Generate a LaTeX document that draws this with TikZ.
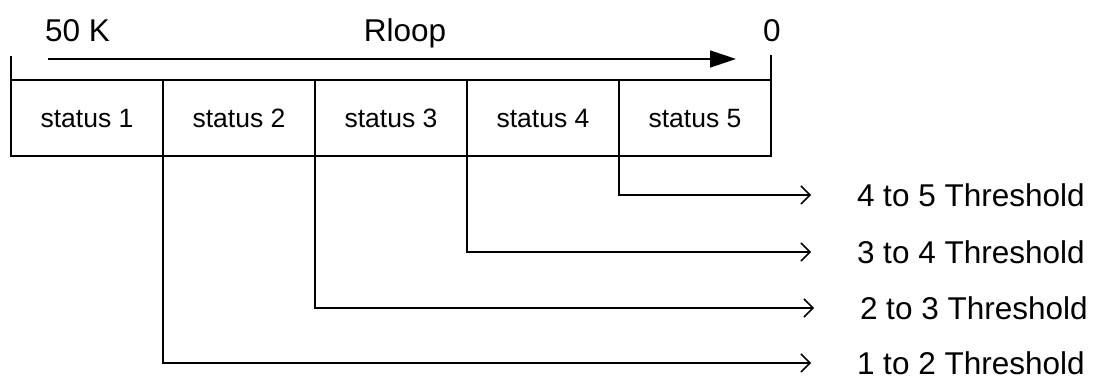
\documentclass[tikz,border=0pt]{standalone}
\usepackage{fontspec}
\setmainfont{Liberation Sans}
\usetikzlibrary{arrows.meta}

\begin{document}
\begin{tikzpicture}[x=1pt,y=-1pt,
	cell/.style={draw,line width=2pt,minimum width=152pt,minimum height=76pt,inner sep=0,outer sep=0,font=\fontsize{26.5}{30}\selectfont},
	lbl/.style={inner sep=0,outer sep=0,font=\fontsize{31.5}{36}\selectfont},
	thr/.style={line width=1.5pt,-{Straight Barb[length=9pt,width=18pt]},shorten >=46pt}]
	\useasboundingbox (0,0) rectangle (1098,377);
	% status cells
	\node[cell] (s1) at (87,118.5) {status 1};
	\node[cell] (s2) at (239,118.5) {status 2};
	\node[cell] (s3) at (391,118.5) {status 3};
	\node[cell] (s4) at (543,118.5) {status 4};
	\node[cell] (s5) at (695,118.5) {status 5};
	% scale above
	\coordinate (l) at (11,56);
	\coordinate (r) at (771,55);
	\draw[line width=2pt] (s1.north west) -- (l);
	\draw[line width=2pt] (s5.north east) -- (r);
	\node[lbl,anchor=base west] (hi) at (45,42) {50 K};
	\node[lbl,anchor=base] (rl) at (405,42) {Rloop};
	\node[lbl,anchor=base] (lo) at (772,42) {0};
	\coordinate (a0) at (48,59);
	\coordinate (a1) at (736,59);
	\draw[line width=1.5pt,-{Triangle[length=26pt,width=17pt]}] (a0) -- (a1);
	% thresholds
	\node[lbl,anchor=west] (t45) at (857,195) {4 to 5 Threshold};
	\node[lbl,anchor=west] (t34) at (857,252) {3 to 4 Threshold};
	\node[lbl,anchor=west] (t23) at (860,308) {2 to 3 Threshold};
	\node[lbl,anchor=west] (t12) at (857,363) {1 to 2 Threshold};
	\draw[thr] (s5.south west) |- (t45);
	\draw[thr] (s4.south west) |- (t34);
	\draw[thr] (s3.south west) |- (t23);
	\draw[thr] (s2.south west) |- (t12);
\end{tikzpicture}
\end{document}
